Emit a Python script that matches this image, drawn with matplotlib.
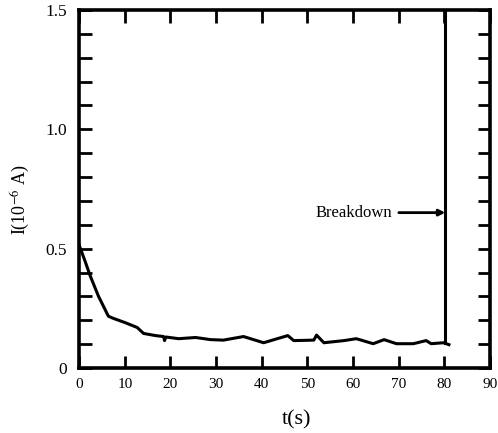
import matplotlib
matplotlib.use("Agg")
import matplotlib.pyplot as plt
from matplotlib.ticker import MultipleLocator, FixedLocator

# current vs time
time_s = [0, 1.3, 2.4, 4.2, 6.4, 7.5, 10.1, 12.7, 14.1, 16.7, 18.5, 18.7, 19.0,
          21.8, 25.5, 28.8, 31.6, 36.0, 40.4, 45.7, 47.0, 51.4, 52.0, 53.6,
          58.0, 60.7, 64.4, 66.8, 69.5, 73.2, 76.0, 77.1, 79.8, 81.0]
current = [0.515, 0.447, 0.387, 0.302, 0.217, 0.208, 0.19, 0.17, 0.145, 0.136,
           0.132, 0.115, 0.13, 0.123, 0.128, 0.119, 0.117, 0.132, 0.106, 0.136,
           0.115, 0.117, 0.138, 0.106, 0.115, 0.123, 0.102, 0.119, 0.102,
           0.102, 0.115, 0.102, 0.106, 0.098]
breakdown_t = 80.2
breakdown_lo = 0.104
breakdown_label_y = 0.651

x_ticks = [0, 10, 20, 30, 40, 50, 60, 70, 80, 90]
y_labels = [0, 0.5, 1.0, 1.5]
y_label_text = ["0", "0.5", "1.0", "1.5"]

plt.rcParams['font.family'] = ['Liberation Serif', 'DejaVu Serif']
plt.rcParams['mathtext.fontset'] = 'stix'

fig = plt.figure(figsize=(4.98, 4.33), dpi=100)
ax = fig.add_axes([0.159, 0.150, 0.825, 0.827])

ax.plot(time_s, current, color='black', lw=2.2, solid_joinstyle='round')
ax.plot([breakdown_t, breakdown_t], [breakdown_lo, 1.5], color='black', lw=2.2)

ax.set_xlim(0, 90)
ax.set_ylim(0, 1.5)

for s in ax.spines.values():
    s.set_linewidth(2.6)

# x ticks: labelled at bottom, inward on top and bottom
ax.xaxis.set_major_locator(FixedLocator(x_ticks))
ax.set_xticklabels([str(v) for v in x_ticks])
ax.tick_params(axis='x', which='major', direction='in', length=9, width=2,
               top=True, bottom=True, labelsize=11, pad=7)

# y ticks: every 0.1 inward both sides, labels at 0.5 steps
ax.yaxis.set_major_locator(FixedLocator(y_labels))
ax.set_yticklabels(y_label_text)
ax.yaxis.set_minor_locator(MultipleLocator(0.1))
ax.tick_params(axis='y', which='both', direction='in', length=9, width=2,
               left=True, right=True, labelsize=12.5, pad=9)

ax.set_xlabel('t(s)', fontsize=16, va='center')
ax.xaxis.set_label_coords(0.53, -0.145)
ax.set_ylabel(r'I(10$^{-6}$ A)', fontsize=13, va='center')
ax.yaxis.set_label_coords(-0.143, 0.47)

ax.annotate('Breakdown', xy=(breakdown_t, breakdown_label_y),
            xytext=(68.5, breakdown_label_y), ha='right', va='center',
            fontsize=12,
            arrowprops=dict(arrowstyle='-|>', color='black', lw=2,
                            mutation_scale=9, shrinkA=3, shrinkB=0))

fig.savefig('out.png', dpi=100)
